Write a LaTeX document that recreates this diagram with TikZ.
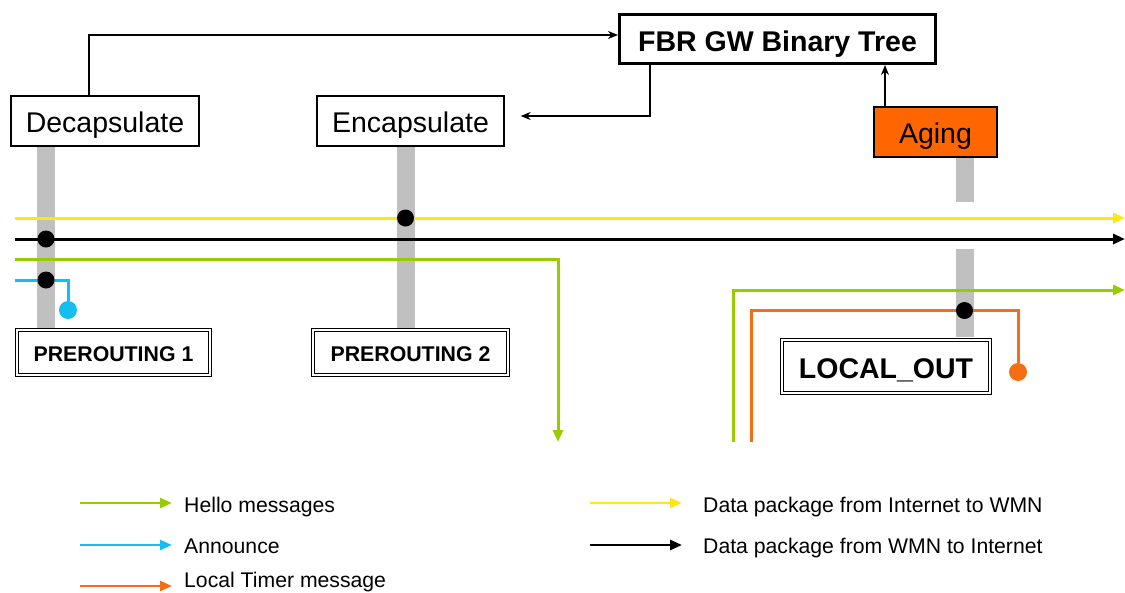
\documentclass[tikz,border=0pt]{standalone}
\usepackage{fontspec}
\setmainfont{Liberation Sans}
\usetikzlibrary{arrows.meta,calc}

\definecolor{flowyellow}{RGB}{255,230,20}
\definecolor{flowgreen}{RGB}{153,204,0}
\definecolor{flowcyan}{RGB}{20,190,240}
\definecolor{floworange}{RGB}{245,110,20}
\definecolor{agingfill}{RGB}{255,102,0}
\definecolor{hookgray}{RGB}{192,192,192}

\tikzset{
  mainfont/.style={font=\fontsize{28.5}{32}\selectfont},
  procbox/.style={draw=black, line width=1.3pt, fill=white, inner sep=0pt, mainfont,
                  text height=22.4pt, text depth=0pt},
  hookbox/.style={draw=black, line width=1.1pt, double=white, double distance=2.2pt,
                  inner sep=0pt, font=\fontsize{21.3}{24}\bfseries\selectfont,
                  text height=18.2pt, text depth=0pt},
  hookbar/.style={hookgray, line width=18pt},
  flow/.style={line width=3pt, -{Triangle[length=12pt,width=10pt]}},
  flowplain/.style={line width=3pt},
  ctrl/.style={line width=1.5pt, -{Stealth[length=10pt,width=8pt]}},
  dot/.style={circle, fill=black, inner sep=0pt, minimum size=17pt},
  enddot/.style={circle, inner sep=0pt, minimum size=18pt},
  legendtext/.style={anchor=base west, inner sep=0pt, font=\fontsize{21.2}{24}\selectfont},
}

\begin{document}
\begin{tikzpicture}[x=1pt, y=-1pt]
\useasboundingbox (0,0) rectangle (1125,592);

% grey hook bars (drawn first, boxes sit on top)
\draw[hookbar] (46,147) -- (46,328);
\draw[hookbar] (405.5,147) -- (405.5,328);
\draw[hookbar] (964.5,158) -- (964.5,202);
\draw[hookbar] (964.5,249) -- (964.5,337);

% processing blocks
\node[procbox, minimum width=188pt, minimum height=50pt] (dec) at (105,121) {Decapsulate};
\node[procbox, minimum width=187pt, minimum height=50pt] (enc) at (410.5,121) {Encapsulate};
\node[procbox, line width=3pt, minimum width=316pt, minimum height=49pt,
      font=\fontsize{28.5}{32}\bfseries\selectfont, text height=25.4pt] (fbr) at (777.5,39) {FBR GW Binary Tree};
\node[procbox, fill=agingfill, minimum width=123pt, minimum height=50pt] (aging) at (935.5,132) {Aging};

% netfilter hooks
\node[hookbox, minimum width=192.6pt, minimum height=44.6pt] (pre1) at (113.5,352.5) {PREROUTING 1};
\node[hookbox, minimum width=194.6pt, minimum height=44.6pt] (pre2) at (410.5,352.5) {PREROUTING 2};
\node[hookbox, minimum width=207.6pt, minimum height=52.6pt,
      font=\fontsize{28.5}{32}\bfseries\selectfont, text height=23.4pt] (lout) at (886,366.5) {LOCAL\_OUT};

% control connectors
\draw[ctrl] ([xshift=-16pt]dec.north) |- ([yshift=4pt]fbr.west);
\draw[ctrl] ([xshift=-127.5pt]fbr.south) |- ([xshift=16pt,yshift=5pt]enc.east);
\draw[ctrl] ([xshift=-50.5pt]aging.north) -- ([xshift=-50.5pt]aging.north |- fbr.south);

% flow end points
\coordinate (yin) at (15,218);   \coordinate (yout) at (1125,218);
\coordinate (kin) at (15,239);   \coordinate (kout) at (1125,239);
\coordinate (gin) at (15,259.5); \coordinate (gdown) at (558,442);
\coordinate (cin) at (15,280);
\coordinate (gup) at (733,442);  \coordinate (gout) at (1125,290);
\coordinate (oup) at (751.5,442);

% traffic flows
\draw[flow, flowyellow] (yin) -- (yout);
\draw[flow, black] (kin) -- (kout);
\draw[flow, flowgreen] (gin) -| (gdown);
\draw[flow, flowgreen] (gup) |- (gout);
\node[enddot, fill=flowcyan] (cend) at (68,310) {};
\draw[flowplain, flowcyan] (cin) -| (cend);
\node[enddot, fill=floworange] (oend) at (1018,372) {};
\draw[flowplain, floworange] (oup) |- (1018,310.5) -- (oend);

% hook points
\node[dot] (h1) at (46,239) {};
\node[dot] (h2) at (46,280) {};
\node[dot] (h3) at (405.5,218) {};
\node[dot] (h4) at (964.5,310.5) {};

% legend
\coordinate (lg1) at (80,503);  \coordinate (lg1e) at (172,503);
\coordinate (lg2) at (80,545);  \coordinate (lg2e) at (172,545);
\coordinate (lg3) at (80,586);  \coordinate (lg3e) at (172,586);
\coordinate (lg4) at (590,503); \coordinate (lg4e) at (682,503);
\coordinate (lg5) at (590,545); \coordinate (lg5e) at (682,545);
\draw[flow, line width=2.6pt, flowgreen] (lg1) -- (lg1e);
\draw[flow, line width=2.6pt, flowcyan] (lg2) -- (lg2e);
\draw[flow, line width=2.6pt, floworange] (lg3) -- (lg3e);
\draw[flow, line width=2.6pt, flowyellow] (lg4) -- (lg4e);
\draw[flow, line width=2.6pt, black] (lg5) -- (lg5e);
\node[legendtext] (t1) at (184,512) {Hello messages};
\node[legendtext] (t2) at (184,553) {Announce};
\node[legendtext] (t3) at (184,587) {Local Timer message};
\node[legendtext] (t4) at (703,512) {Data package from Internet to WMN};
\node[legendtext] (t5) at (703,553) {Data package from WMN to Internet};
\end{tikzpicture}
\end{document}
